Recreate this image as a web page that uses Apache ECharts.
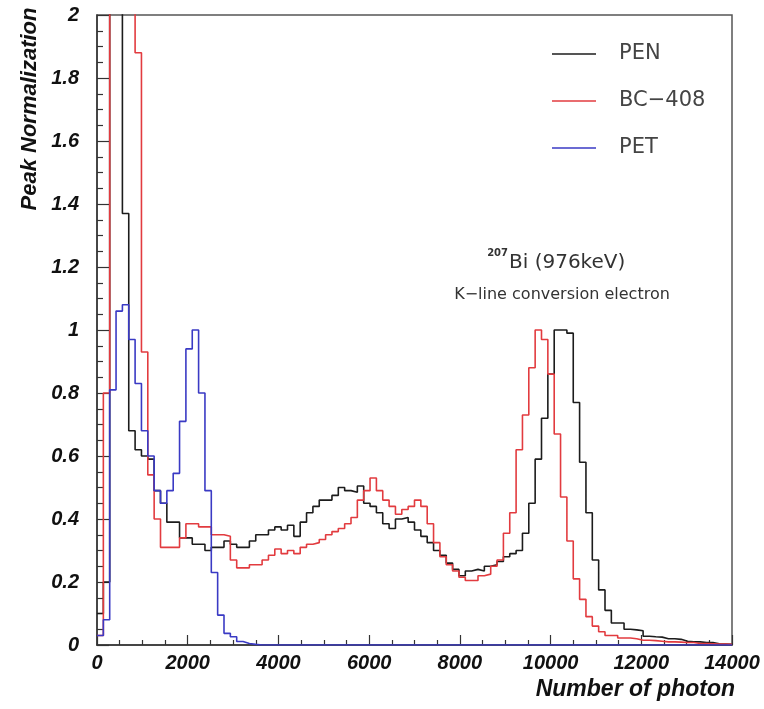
<!DOCTYPE html>
<html><head><meta charset="utf-8">
<script src="https://cdn.jsdelivr.net/npm/echarts@6/dist/echarts.min.js"></script>
<style>html,body{margin:0;padding:0;background:#fff}#c{width:764px;height:709px}</style>
</head><body><div id="c"></div>
<script>
// histogram: 100 bins of 140 photons each, 0..14000
const BIN_WIDTH = 140;
const PEN = [0.10,0.20,2.5,2.5,1.37,0.68,0.62,0.60,0.59,0.49,
  0.45,0.39,0.39,0.34,0.34,0.32,0.32,0.30,0.31,0.31,
  0.33,0.32,0.31,0.31,0.33,0.35,0.35,0.365,0.375,0.365,
  0.38,0.345,0.39,0.42,0.44,0.46,0.46,0.475,0.50,0.49,
  0.485,0.505,0.45,0.44,0.42,0.385,0.37,0.40,0.405,0.39,
  0.365,0.345,0.325,0.30,0.285,0.26,0.24,0.22,0.235,0.24,
  0.235,0.25,0.255,0.265,0.28,0.29,0.30,0.355,0.45,0.59,
  0.72,0.86,1.0,1.0,0.99,0.77,0.58,0.42,0.27,0.175,
  0.11,0.07,0.07,0.05,0.048,0.045,0.028,0.026,0.025,0.02,
  0.02,0.018,0.012,0.01,0.01,0.008,0.008,0.004,0.003,0.002];
const BC408 = [0.03,0.80,2.5,2.5,2.5,2.5,1.88,0.93,0.54,0.40,
  0.31,0.31,0.31,0.34,0.385,0.385,0.375,0.375,0.35,0.35,
  0.345,0.27,0.245,0.245,0.255,0.255,0.27,0.285,0.305,0.29,
  0.30,0.29,0.31,0.32,0.325,0.335,0.35,0.36,0.37,0.385,
  0.405,0.46,0.49,0.53,0.49,0.46,0.44,0.415,0.43,0.44,
  0.46,0.44,0.385,0.325,0.28,0.255,0.235,0.215,0.205,0.205,
  0.22,0.225,0.25,0.27,0.355,0.42,0.62,0.73,0.88,1.0,
  0.97,0.86,0.67,0.47,0.33,0.21,0.145,0.09,0.06,0.042,
  0.03,0.03,0.022,0.022,0.02,0.015,0.015,0.014,0.012,0.01,
  0.01,0.009,0.008,0.008,0.005,0.005,0.004,0.003,0.003,0.002];
const PET = [0.03,0.08,0.81,1.06,1.08,0.97,0.83,0.68,0.60,0.49,
  0.45,0.49,0.545,0.71,0.94,1.0,0.80,0.49,0.23,0.095,
  0.037,0.026,0.011,0.005,0.002,0,0,0,0,0,
  0,0,0,0,0,0,0,0,0,0, 0,0,0,0,0,0,0,0,0,0,
  0,0,0,0,0,0,0,0,0,0, 0,0,0,0,0,0,0,0,0,0,
  0,0,0,0,0,0,0,0,0,0, 0,0,0,0,0,0,0,0,0,0,
  0,0,0,0,0,0,0,0,0,0];
const SERIES_NAMES = ['PEN','BC\u2212408','PET'];
const COLORS = ['#1c1c1c','#e23b3f','#3a3ac4'];
const X_MIN = 0, X_MAX = 14000, X_STEP = 2000;
const Y_MIN = 0, Y_MAX = 2, Y_STEP = 0.2;

function stepData(vals){
  const d = vals.map((v,i)=>[i*BIN_WIDTH, v]);
  d.push([vals.length*BIN_WIDTH, vals[vals.length-1]]);
  return d;
}
const FONT = '"Liberation Sans", Arial, sans-serif';
const chart = echarts.init(document.getElementById('c'), null, {renderer:'canvas'});
const lab = {fontFamily:FONT, fontWeight:'bold', fontStyle:'italic', fontSize:20, color:'#111'};
chart.setOption({
  animation:false,
  backgroundColor:'#fff',
  grid:{left:97, right:32, top:15, bottom:64, show:true, borderColor:'#555', borderWidth:1.5, backgroundColor:'transparent'},
  xAxis:{type:'value', min:X_MIN, max:X_MAX, interval:X_STEP,
    axisLine:{show:true, lineStyle:{color:'#333', width:1.5}},
    axisTick:{show:true, inside:true, length:10, lineStyle:{color:'#333', width:1.2}},
    minorTick:{show:true, splitNumber:4, length:5, lineStyle:{color:'#333', width:1.2}},
    splitLine:{show:false},
    axisLabel:Object.assign({margin:8, formatter:v=>String(v)}, lab)},
  yAxis:{type:'value', min:Y_MIN, max:Y_MAX, interval:Y_STEP,
    axisLine:{show:true, lineStyle:{color:'#333', width:1.5}},
    axisTick:{show:true, inside:true, length:12, lineStyle:{color:'#333', width:1.2}},
    minorTick:{show:true, splitNumber:4, length:6, lineStyle:{color:'#333', width:1.2}},
    splitLine:{show:false},
    axisLabel:Object.assign({margin:18, formatter:v=>String(Math.round(v*10)/10)}, lab)},
  legend:{orient:'vertical', left:547, top:38, itemWidth:44, itemHeight:1.5, itemGap:25,
    icon:'rect',
    textStyle:{fontFamily:'"DejaVu Sans", sans-serif', fontSize:21, color:'#444', lineHeight:22, padding:[0,0,0,18]},
    data:SERIES_NAMES},
  series:[PEN, BC408, PET].map((vals, k)=>({
    name:SERIES_NAMES[k], type:'line', step:'end', showSymbol:false, symbol:'none',
    clip:true, data:stepData(vals), color:COLORS[k],
    lineStyle:{color:COLORS[k], width:1.6}
  })),
  graphic:[
    {type:'text', x:735, y:690, style:{text:'Number of photon', font:'italic bold 23px '+FONT, fill:'#111', textAlign:'right', textVerticalAlign:'middle', align:'right', verticalAlign:'middle'}},
    {type:'text', x:30, y:109, rotation:Math.PI/2, style:{text:'Peak Normalization', font:'italic bold 22px '+FONT, fill:'#111', textAlign:'center', textVerticalAlign:'middle', align:'center', verticalAlign:'middle'}},
    {type:'text', x:508, y:253, style:{text:'207', font:'bold 10px "DejaVu Sans", sans-serif', fill:'#333', textAlign:'right', textVerticalAlign:'middle', align:'right', verticalAlign:'middle'}},
    {type:'text', x:509, y:263, style:{text:'Bi (976keV)', font:'20px "DejaVu Sans", sans-serif', fill:'#333', textAlign:'left', textVerticalAlign:'middle', align:'left', verticalAlign:'middle'}},
    {type:'text', x:562, y:295, style:{text:'K\u2212line conversion electron', font:'16px "DejaVu Sans", sans-serif', fill:'#333', textAlign:'center', textVerticalAlign:'middle', align:'center', verticalAlign:'middle'}}
  ]
});
</script></body></html>
